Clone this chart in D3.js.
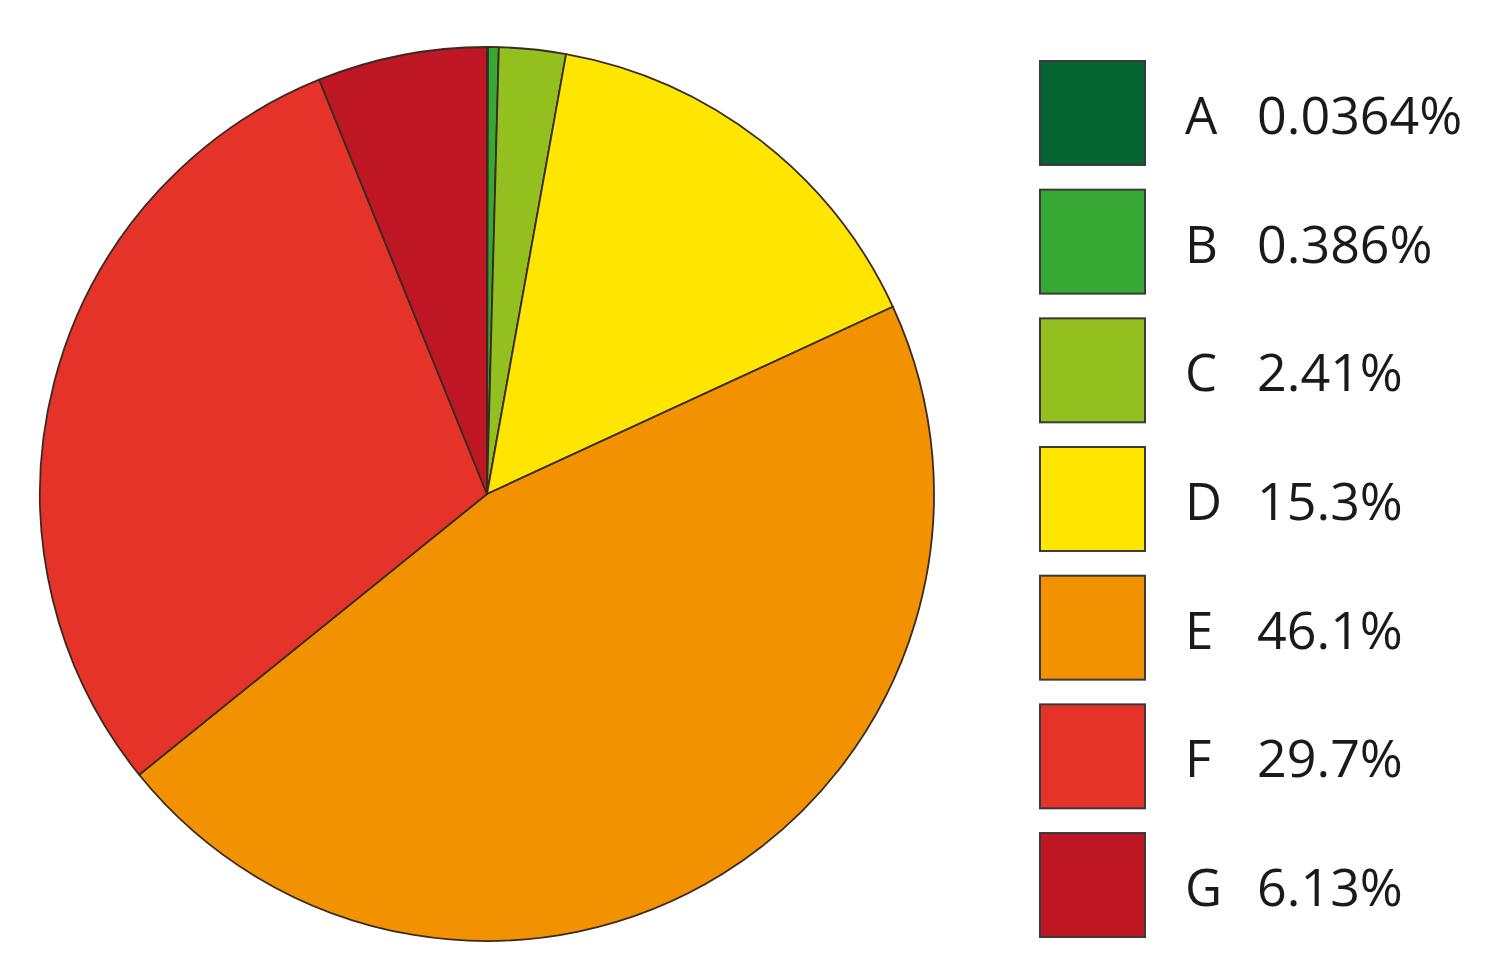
<!DOCTYPE html>
<html>
<head>
<meta charset="utf-8">
<script src="https://cdn.jsdelivr.net/npm/d3@7"></script>
<style>
  html, body { margin: 0; padding: 0; background: #ffffff; }
  svg { display: block; }
</style>
</head>
<body>
<svg id="chart" width="1492" height="970"></svg>
<script>
const categories = ["A", "B", "C", "D", "E", "F", "G"];
const values = [0.0364, 0.386, 2.41, 15.3, 46.1, 29.7, 6.13];
const valueLabels = ["0.0364%", "0.386%", "2.41%", "15.3%", "46.1%", "29.7%", "6.13%"];
const colors = ["#05642f", "#37a834", "#93c01f", "#ffe600", "#f39200", "#e6332a", "#be1622"];

const svg = d3.select("#chart");
const cx = 487, cy = 494, r = 447;

const data = categories.map((c, i) => ({ cat: c, value: values[i], label: valueLabels[i], color: colors[i] }));

const pie = d3.pie().sort(null).value(d => d.value);
const arc = d3.arc().innerRadius(0).outerRadius(r);

svg.append("g")
  .attr("transform", `translate(${cx},${cy})`)
  .selectAll("path")
  .data(pie(data))
  .join("path")
  .attr("d", arc)
  .attr("fill", d => d.data.color)
  .attr("stroke", "#3b2a22")
  .attr("stroke-width", 1.8)
  .attr("stroke-linejoin", "round");

// legend
const legendY = d3.scaleBand().domain(categories).range([61, 937]).paddingInner(0.192).paddingOuter(0);
const lg = svg.append("g");
const rows = lg.selectAll("g").data(data).join("g")
  .attr("transform", d => `translate(0,${legendY(d.cat)})`);
rows.append("rect")
  .attr("x", 1040).attr("y", 0)
  .attr("width", 105).attr("height", legendY.bandwidth())
  .attr("fill", d => d.color)
  .attr("stroke", "#3a3a3a")
  .attr("stroke-width", 2);
rows.append("text")
  .attr("x", 1185).attr("y", legendY.bandwidth() / 2 + 21)
  .attr("font-family", "'Open Sans', sans-serif")
  .attr("font-size", 51)
  .attr("fill", "#1a1a1a")
  .text(d => d.cat);
rows.append("text")
  .attr("x", 1257).attr("y", legendY.bandwidth() / 2 + 21)
  .attr("font-family", "'Open Sans', sans-serif")
  .attr("font-size", 52)
  .attr("fill", "#1a1a1a")
  .text(d => d.label);
</script>
</body>
</html>
